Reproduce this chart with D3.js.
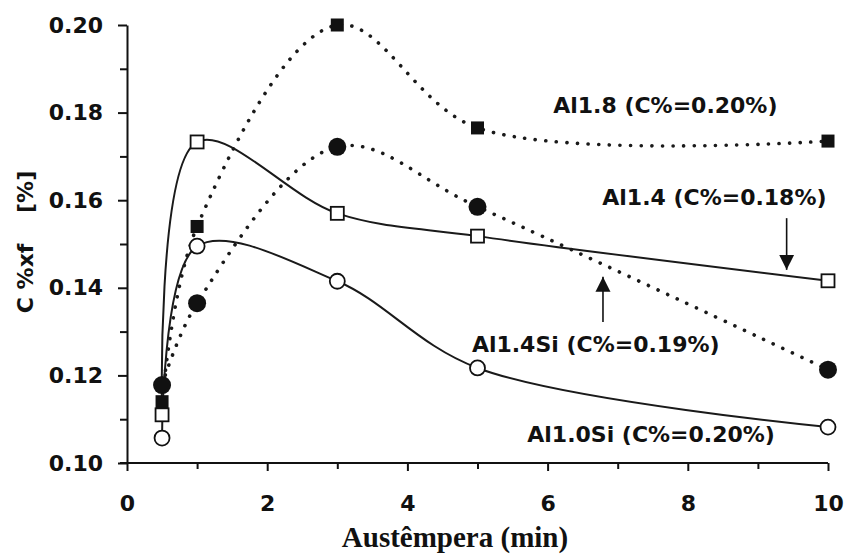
<!DOCTYPE html>
<html>
<head>
<meta charset="utf-8">
<script src="https://cdn.jsdelivr.net/npm/d3@7"></script>
<style>
  body { margin: 0; background: #fff; }
  svg text { font-family: "DejaVu Sans", sans-serif; font-weight: bold; fill: #111; }
</style>
</head>
<body>
<div id="canvas"></div>
<script>
// data
const times = [0.5, 1, 3, 5, 10];
const al18 = [0.114, 0.154, 0.200, 0.1765, 0.1735];     // filled squares, dotted
const al14 = [0.111, 0.1733, 0.157, 0.1518, 0.1416];    // open squares, solid
const al14si = [0.1178, 0.1365, 0.1722, 0.1585, 0.1213]; // filled circles, dotted
const al10si = [0.1057, 0.1495, 0.1415, 0.1217, 0.1082]; // open circles, solid

const xMajor = [0, 2, 4, 6, 8, 10];
const xMinor = [1, 3, 5, 7, 9];
const yMajor = [0.10, 0.12, 0.14, 0.16, 0.18, 0.20];
const yMinor = [0.11, 0.13, 0.15, 0.17, 0.19];

const labels = [
  { text: "Al1.8 (C%=0.20%)", x: 6.08, y: 0.1799 },
  { text: "Al1.4 (C%=0.18%)", x: 6.78, y: 0.1589 },
  { text: "Al1.4Si (C%=0.19%)", x: 4.92, y: 0.1253 },
  { text: "Al1.0Si (C%=0.20%)", x: 5.71, y: 0.1049 }
];
// arrows: x, tail y, tip y
const arrows = [
  { x: 9.41, from: 0.1559, to: 0.1441 },
  { x: 6.79, from: 0.1322, to: 0.1425 }
];

const width = 847;
const height = 558;
const margin = { top: 25, left: 127, bottom: 95, right: 19 };
const iwidth = width - margin.left - margin.right;
const iheight = height - margin.top - margin.bottom;

const svg = d3.select("#canvas").append("svg")
  .attr("width", width)
  .attr("height", height);

const defs = svg.append("defs");
defs.append("marker")
  .attr("id", "head")
  .attr("viewBox", "0 0 10 10")
  .attr("refX", 10).attr("refY", 5)
  .attr("markerWidth", 15).attr("markerHeight", 20)
  .attr("markerUnits", "userSpaceOnUse")
  .attr("orient", "auto")
  .append("path")
  .attr("d", "M0,0 L10,5 L0,10 Z")
  .attr("fill", "#111");

const graph = svg.append("g").attr("transform", `translate(${margin.left},${margin.top})`);

const x = d3.scaleLinear().domain([0, 10]).range([0, iwidth]);
const y = d3.scaleLinear().domain([0.10, 0.20]).range([iheight, 0]);

// axes
function styleAxis(g) {
  g.select(".domain").attr("stroke", "#111").attr("stroke-width", 2);
  g.selectAll(".tick line").attr("stroke", "#111").attr("stroke-width", 2);
  g.selectAll(".tick text").attr("font-size", 22).attr("fill", "#111")
    .attr("font-family", "DejaVu Sans").attr("font-weight", "bold");
}

graph.append("g")
  .attr("transform", `translate(0,${iheight})`)
  .call(d3.axisBottom(x).tickValues(xMinor).tickSize(6).tickSizeOuter(0).tickFormat(""))
  .call(g => g.select(".domain").attr("d", `M-7,0H${iwidth}`))
  .call(styleAxis);

graph.append("g")
  .attr("transform", `translate(0,${iheight})`)
  .call(d3.axisBottom(x).tickValues(xMajor).tickSize(8).tickPadding(24).tickSizeOuter(0).tickFormat(d3.format("d")))
  .call(g => g.select(".domain").remove())
  .call(styleAxis);

graph.append("g")
  .call(d3.axisLeft(y).tickValues(yMinor).tickSize(7).tickSizeOuter(0).tickFormat(""))
  .call(styleAxis);

graph.append("g")
  .call(d3.axisLeft(y).tickValues(yMajor).tickSize(9).tickPadding(15).tickSizeOuter(0).tickFormat(d3.format(".2f")))
  .call(g => g.select(".domain").remove())
  .call(styleAxis);

// lines
const line = d3.line()
  .x(d => x(d[0]))
  .y(d => y(d[1]))
  .curve(d3.curveCatmullRom.alpha(0.5));

const series = [
  { vals: al18, dotted: true, shape: "square", fill: true },
  { vals: al14si, dotted: true, shape: "circle", fill: true },
  { vals: al14, dotted: false, shape: "square", fill: false },
  { vals: al10si, dotted: false, shape: "circle", fill: false }
];

series.forEach(s => {
  const pts = times.map((t, i) => [t, s.vals[i]]);
  const p = graph.append("path")
    .datum(pts)
    .attr("d", line)
    .attr("fill", "none")
    .attr("stroke", "#1a1a1a");
  if (s.dotted) {
    p.attr("stroke-width", 3.6)
      .attr("stroke-linecap", "round")
      .attr("stroke-dasharray", "0.1 10.5");
  } else {
    p.attr("stroke-width", 2);
  }
  s.pts = pts;
});

series.forEach(s => {
  const g = graph.append("g");
  if (s.shape === "square") {
    const sz = s.fill ? 13 : 13;
    g.selectAll("rect").data(s.pts).enter().append("rect")
      .attr("x", d => x(d[0]) - sz / 2)
      .attr("y", d => y(d[1]) - sz / 2)
      .attr("width", sz)
      .attr("height", sz)
      .attr("fill", s.fill ? "#111" : "#fff")
      .attr("stroke", "#111")
      .attr("stroke-width", s.fill ? 0 : 1.8);
  } else {
    g.selectAll("circle").data(s.pts).enter().append("circle")
      .attr("cx", d => x(d[0]))
      .attr("cy", d => y(d[1]))
      .attr("r", s.fill ? 9 : 7.5)
      .attr("fill", s.fill ? "#111" : "#fff")
      .attr("stroke", "#111")
      .attr("stroke-width", s.fill ? 0 : 1.8);
  }
});

// annotations
graph.selectAll(".arrow").data(arrows).enter().append("line")
  .attr("class", "arrow")
  .attr("x1", d => x(d.x)).attr("x2", d => x(d.x))
  .attr("y1", d => y(d.from)).attr("y2", d => y(d.to))
  .attr("stroke", "#111")
  .attr("stroke-width", 1.6)
  .attr("marker-end", "url(#head)");

graph.selectAll(".lbl").data(labels).enter().append("text")
  .attr("class", "lbl")
  .attr("x", d => x(d.x))
  .attr("y", d => y(d.y))
  .attr("font-size", 22)
  .text(d => d.text);

// axis titles
svg.append("text")
  .attr("x", 455)
  .attr("y", 547)
  .attr("text-anchor", "middle")
  .attr("font-family", "'Liberation Serif', 'Times New Roman', serif")
  .style("font-family", "'Liberation Serif', 'Times New Roman', serif")
  .attr("font-size", 29)
  .text("Austêmpera (min)");

svg.append("text")
  .attr("transform", "translate(33,242) rotate(-90)")
  .attr("text-anchor", "middle")
  .attr("font-size", 22)
  .style("white-space", "pre")
  .text("C %xf    [%]");
</script>
</body>
</html>
